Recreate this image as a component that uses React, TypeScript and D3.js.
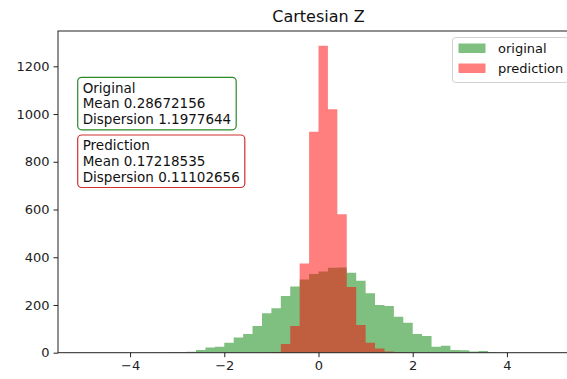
import React, { useEffect, useRef } from 'react';
import * as d3 from 'd3';

// bin edges of both histograms (width 0.2)
const binEdges = [
  -4.0, -3.8, -3.6, -3.4, -3.2, -3.0, -2.8, -2.6, -2.4, -2.2,
  -2.0, -1.8, -1.6, -1.4, -1.2, -1.0, -0.8, -0.6, -0.4, -0.2,
  0.0, 0.2, 0.4, 0.6, 0.8, 1.0, 1.2, 1.4, 1.6, 1.8,
  2.0, 2.2, 2.4, 2.6, 2.8, 3.0, 3.2, 3.4, 3.6, 3.8, 4.0,
];

const originalCounts = [
  0, 0, 1, 1, 2, 2, 4, 11, 22, 25,
  42, 64, 78, 112, 165, 186, 238, 277, 307, 330,
  340, 356, 357, 335, 302, 249, 200, 196, 151, 126,
  78, 70, 25, 29, 11, 10, 5, 7, 2, 1,
];

const predictionCounts = [
  0, 0, 0, 0, 0, 0, 0, 0, 0, 0,
  0, 0, 0, 0, 1, 3, 36, 112, 374, 926,
  1286, 1020, 580, 275, 116, 42, 18, 5, 2, 1,
  0, 0, 0, 0, 0, 0, 0, 0, 0, 0,
];

const xTicks = [-4, -2, 0, 2, 4];
const yTicks = [0, 200, 400, 600, 800, 1000, 1200];

const seriesNames = ['original', 'prediction'];
const seriesColors = ['#008000', '#ff0000'];

const statsTitles = ['Original', 'Prediction'];
const statsMeans = ['0.28672156', '0.17218535'];
const statsDispersions = ['1.1977644', '0.11102656'];
const statsEdges = ['#2a8a2a', '#d23030'];

const title = 'Cartesian Z';

const App = () => {
  const svgRef = useRef<SVGSVGElement>(null);

  useEffect(() => {
    const width = 567;
    const height = 379;
    const margin = { top: 31, right: -12, bottom: 26.3, left: 58 };
    const font = 'DejaVu Sans, sans-serif';

    const svg = d3.select(svgRef.current);
    svg.selectAll('*').remove();

    const x = d3.scaleLinear().domain([-5.53, 5.53]).range([margin.left, width - margin.right]);
    const y = d3.scaleLinear().domain([0, 1348]).range([height - margin.bottom, margin.top]);

    const clip = svg.append('defs').append('clipPath').attr('id', 'plot-clip');
    clip.append('rect')
      .attr('x', margin.left).attr('y', margin.top)
      .attr('width', width - margin.right - margin.left)
      .attr('height', height - margin.bottom - margin.top);

    // step areas for the histograms
    const area = d3.area<number>()
      .curve(d3.curveStepAfter)
      .x((d, i) => x(binEdges[i]))
      .y0(y(0))
      .y1(d => y(d));

    [originalCounts, predictionCounts].forEach((counts, k) => {
      const pts = [...counts, counts[counts.length - 1]];
      svg.append('path')
        .attr('clip-path', 'url(#plot-clip)')
        .attr('d', area(pts))
        .attr('fill', seriesColors[k])
        .attr('fill-opacity', 0.5);
    });

    // axes
    const xAxis = svg.append('g')
      .attr('transform', `translate(0,${y(0)})`)
      .call(d3.axisBottom(x).tickValues(xTicks).tickSize(4.5).tickPadding(4).tickSizeOuter(0));
    const yAxis = svg.append('g')
      .attr('transform', `translate(${margin.left},0)`)
      .call(d3.axisLeft(y).tickValues(yTicks).tickFormat(d3.format('d')).tickSize(4.5).tickPadding(4).tickSizeOuter(0));
    [xAxis, yAxis].forEach(a => {
      a.select('.domain').remove();
      a.selectAll('line').attr('stroke', '#222');
      a.selectAll('text').attr('font-family', font).attr('font-size', 13).attr('fill', '#222');
    });

    // spines
    svg.append('rect')
      .attr('x', margin.left).attr('y', margin.top)
      .attr('width', width - margin.right - margin.left)
      .attr('height', y(0) - margin.top)
      .attr('fill', 'none')
      .attr('stroke', '#222')
      .attr('stroke-width', 1);

    svg.append('text')
      .attr('x', (margin.left + width - margin.right) / 2)
      .attr('y', 22)
      .attr('text-anchor', 'middle')
      .attr('font-family', font)
      .attr('font-size', 16)
      .attr('fill', '#111')
      .text(title);

    // stats boxes
    const boxTops = [77.3, 135];
    statsTitles.forEach((t, i) => {
      const g = svg.append('g');
      const rect = g.append('rect');
      const lines = [t, `Mean ${statsMeans[i]}`, `Dispersion ${statsDispersions[i]}`];
      const txt = g.append('text')
        .attr('font-family', font)
        .attr('font-size', 13.5)
        .attr('fill', '#111');
      lines.forEach((l, j) => {
        txt.append('tspan')
          .attr('x', 82.7)
          .attr('y', boxTops[i] + 15.3 + j * 15.6)
          .text(l);
      });
      const w = (txt.node() as SVGTextElement).getBBox().width;
      rect
        .attr('x', 77.7).attr('y', boxTops[i])
        .attr('width', w + 10).attr('height', 52.5)
        .attr('rx', 4)
        .attr('fill', 'white')
        .attr('stroke', statsEdges[i])
        .attr('stroke-width', 1.2);
    });

    // legend
    const legend = svg.append('g');
    legend.append('rect')
      .attr('x', 452.5).attr('y', 37.5)
      .attr('width', 116).attr('height', 45)
      .attr('rx', 3)
      .attr('fill', 'white').attr('fill-opacity', 0.8)
      .attr('stroke', '#d0d0d0');
    seriesNames.forEach((name, i) => {
      legend.append('rect')
        .attr('x', 458.5).attr('y', 43.5 + i * 20)
        .attr('width', 27).attr('height', 9.5)
        .attr('fill', seriesColors[i]).attr('fill-opacity', 0.5);
      legend.append('text')
        .attr('x', 498)
        .attr('y', 53 + i * 20)
        .attr('font-family', font)
        .attr('font-size', 13)
        .attr('fill', '#111')
        .text(name);
    });
  }, []);

  return (
    <svg
      ref={svgRef}
      width={567}
      height={379}
      style={{ position: 'absolute', left: 0, top: 0, background: 'white' }}
    />
  );
};

export default App;
